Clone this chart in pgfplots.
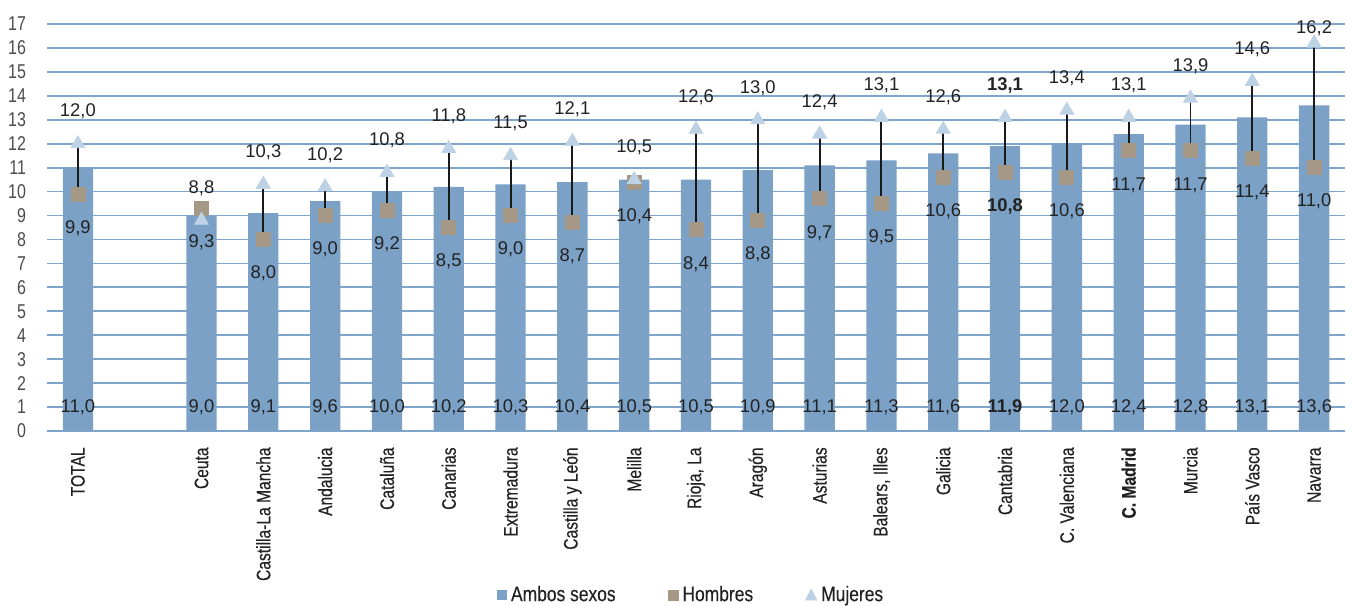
\documentclass[border=0pt]{standalone}
\usepackage{fontspec}
\setmainfont{Liberation Sans}
\newfontfamily\cond{Liberation Sans}[FakeStretch=0.8]
\newfontfamily\condb{Liberation Sans}[FakeStretch=0.8, FakeBold=0.35]
\newfontfamily\condl{Liberation Sans}[FakeStretch=0.83, FakeBold=0.3]
\usepackage{pgfplots}
\usepackage{pgfplotstable}
\pgfplotsset{compat=1.18}
\definecolor{ambos}{HTML}{7BA1C7}
\definecolor{hombres}{HTML}{A69886}
\definecolor{mujeres}{HTML}{BDD2E4}
\definecolor{gridblue}{HTML}{7FA5CA}
\definecolor{txt}{HTML}{222222}
\pgfplotstableread{
x amb hom muj al hl ml
0 11.0 9.9 12.0 11,0 9,9 12,0
2 9.0 9.3 8.8 9,0 9,3 8,8
3 9.1 8.0 10.3 9,1 8,0 10,3
4 9.6 9.0 10.2 9,6 9,0 10,2
5 10.0 9.2 10.8 10,0 9,2 10,8
6 10.2 8.5 11.8 10,2 8,5 11,8
7 10.3 9.0 11.5 10,3 9,0 11,5
8 10.4 8.7 12.1 10,4 8,7 12,1
9 10.5 10.4 10.5 10,5 10,4 10,5
10 10.5 8.4 12.6 10,5 8,4 12,6
11 10.9 8.8 13.0 10,9 8,8 13,0
12 11.1 9.7 12.4 11,1 9,7 12,4
13 11.3 9.5 13.1 11,3 9,5 13,1
14 11.6 10.6 12.6 11,6 10,6 12,6
15 11.9 10.8 13.1 \textbf{11,9} \textbf{10,8} \textbf{13,1}
16 12.0 10.6 13.4 12,0 10,6 13,4
17 12.4 11.7 13.1 12,4 11,7 13,1
18 12.8 11.7 13.9 12,8 11,7 13,9
19 13.1 11.4 14.6 13,1 11,4 14,6
20 13.6 11.0 16.2 13,6 11,0 {}
}\datatab
\begin{document}
\begin{tikzpicture}
\path[use as bounding box] (-23.5pt,-87pt) rectangle (652.5pt,215.5pt);
\begin{axis}[
  scale only axis,
  width=649pt, height=203.5pt,
  xmin=-0.5, xmax=20.5,
  ymin=0, ymax=17,
  ytick={0,1,...,17},
  xtick={0,2,3,4,5,6,7,8,9,10,11,12,13,14,15,16,17,18,19,20},
  xticklabels={TOTAL,Ceuta,Castilla-La Mancha,Andalucia,Cataluña,Canarias,Extremadura,Castilla y León,Melilla,{Rioja, La},Aragón,Asturias,{Balears, Illes},Galicia,Cantabria,C. Valenciana,\textbf{C. Madrid},Murcia,País Vasco,Navarra},
  axis line style={draw=none},
  tick style={draw=none},
  ymajorgrids,
  grid style={color=gridblue, line width=0.9pt},
  /pgf/number format/assume math mode=true,
  yticklabel style={font=\cond\fontsize{10}{10}\selectfont, text=black!70, xshift=-7pt},
  xticklabel style={font=\condb\fontsize{9.75}{10}\selectfont, text=txt, rotate=90, anchor=east, inner sep=0pt, xshift=-8pt},
  legend style={at={(axis description cs:0.497,-0.403)}, anchor=center, draw=none, fill=none,
    legend columns=3, font=\condl\fontsize{10.5}{12}\selectfont, text=txt,
    /tikz/every even column/.append style={column sep=24pt},
    inner sep=0pt},
  legend cell align=left,
  clip=false,
]
\addplot[ybar, bar width=0.49, bar shift=0pt, fill=ambos, draw=none,
  legend image code/.code={\fill[ambos] (0pt,-2.5pt) rectangle (5pt,2.5pt);}]
  table[x=x, y=amb] {\datatab};
\addlegendentry{Ambos sexos}
\addplot[draw=none, mark=none, forget plot,
  error bars/.cd, y dir=minus, y explicit,
  error bar style={color=black!90, line width=0.95pt}, error mark=none]
  table[x=x, y=muj, y error minus expr=\thisrow{muj}-\thisrow{hom}] {\datatab};
\addplot[only marks, mark=square*, mark size=3.5pt, color=hombres,
  legend image code/.code={\fill[hombres] (0pt,-2.5pt) rectangle (5pt,2.5pt);},
  nodes near coords, point meta=explicit symbolic,
  every node near coord/.append style={anchor=center, yshift=-17pt, text=txt, font=\fontsize{9.2}{10}\selectfont}]
  table[x=x, y=hom, meta=hl] {\datatab};
\addlegendentry{Hombres}
\addplot[only marks, mark=triangle*, mark size=4pt, color=mujeres,
  legend image code/.code={\fill[mujeres] (0pt,-2.5pt) -- (5.6pt,-2.5pt) -- (2.8pt,2.9pt) -- cycle;},
  nodes near coords, point meta=explicit symbolic,
  every node near coord/.append style={anchor=center, yshift=16pt, text=txt, font=\fontsize{9.2}{10}\selectfont}]
  table[x=x, y=muj, meta=ml] {\datatab};
\addlegendentry{Mujeres}
\addplot[draw=none, mark=none, forget plot,
  nodes near coords, point meta=explicit symbolic,
  every node near coord/.append style={anchor=center, yshift=7.5pt, text=txt, font=\fontsize{9.2}{10}\selectfont}]
  coordinates {(20,16.2) [16,2]};
\addplot[draw=none, mark=none, forget plot,
  nodes near coords, point meta=explicit symbolic,
  every node near coord/.append style={anchor=center, text=txt, font=\fontsize{9.2}{10}\selectfont}]
  table[x=x, y expr=1, meta=al] {\datatab};
\end{axis}
\end{tikzpicture}
\end{document}
